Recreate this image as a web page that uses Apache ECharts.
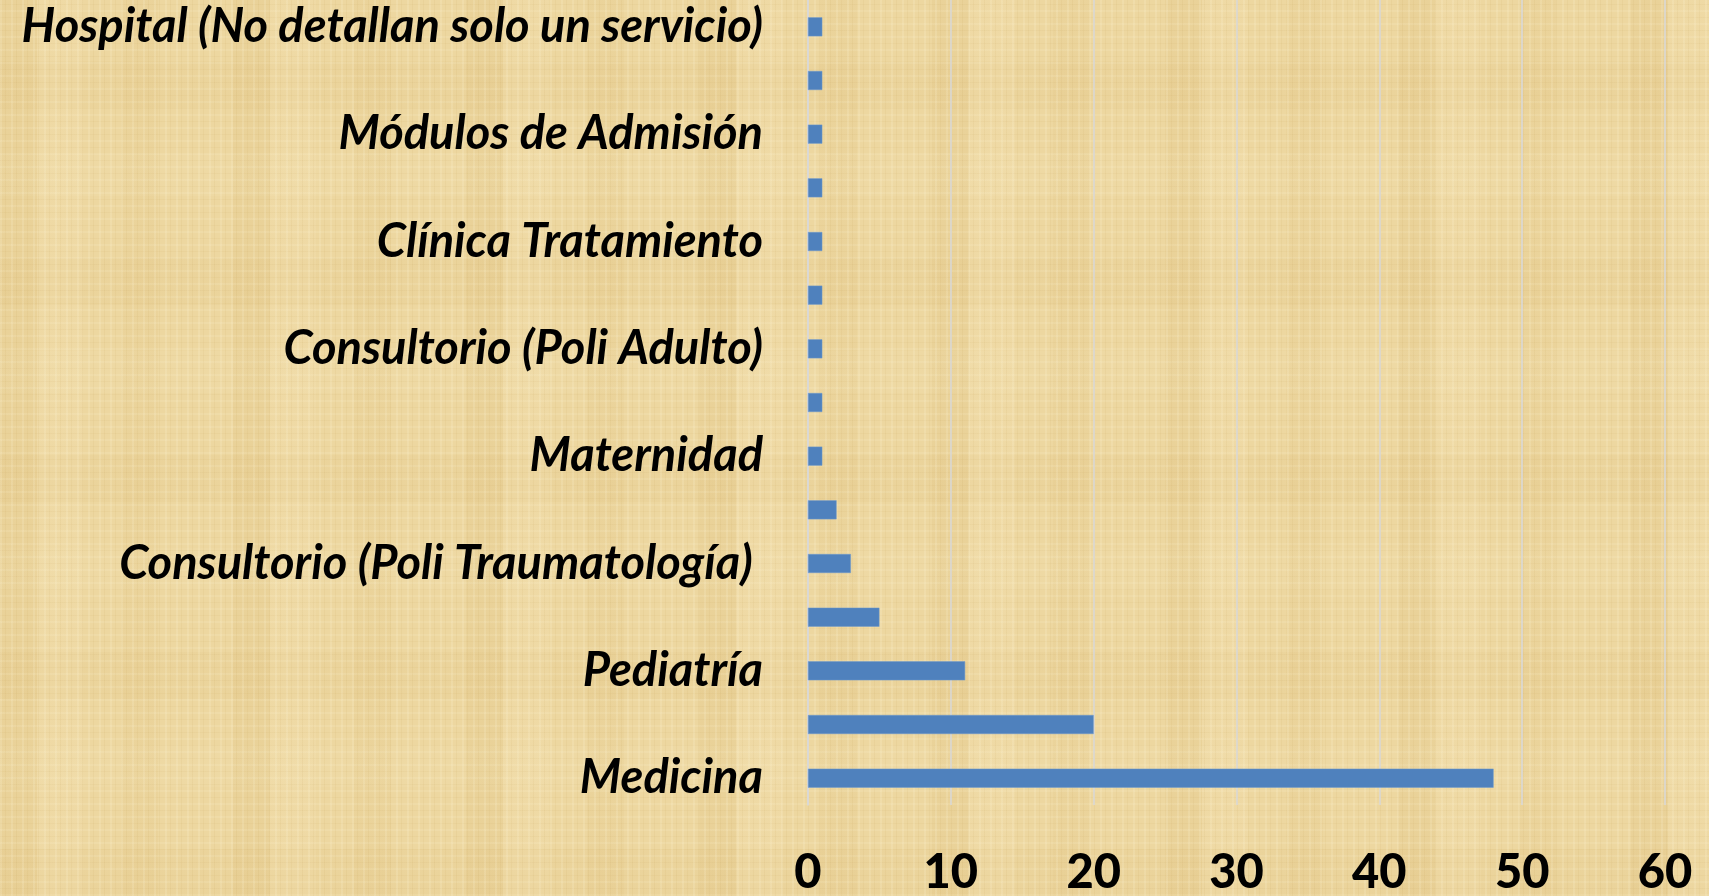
<!DOCTYPE html>
<html>
<head>
<meta charset="utf-8">
<script src="https://cdn.jsdelivr.net/npm/echarts@6/dist/echarts.min.js"></script>
<style>
html,body{margin:0;padding:0;width:1709px;height:896px;overflow:hidden;}
body{
  background-color:#edd7a0;
  background-image:
    repeating-linear-gradient(90deg, rgba(255,248,220,0.16) 0px, rgba(255,248,220,0.16) 2px, rgba(0,0,0,0) 2px, rgba(0,0,0,0) 5px, rgba(180,140,60,0.07) 5px, rgba(180,140,60,0.07) 6px, rgba(0,0,0,0) 6px, rgba(0,0,0,0) 11px),
    repeating-linear-gradient(0deg, rgba(255,248,220,0.12) 0px, rgba(255,248,220,0.12) 2px, rgba(0,0,0,0) 2px, rgba(0,0,0,0) 7px, rgba(180,140,60,0.06) 7px, rgba(180,140,60,0.06) 8px, rgba(0,0,0,0) 8px, rgba(0,0,0,0) 13px),
    repeating-linear-gradient(90deg, rgba(200,160,80,0.09) 0px, rgba(200,160,80,0.09) 37px, rgba(255,240,205,0.10) 37px, rgba(255,240,205,0.10) 83px, rgba(0,0,0,0) 83px, rgba(0,0,0,0) 121px, rgba(205,165,85,0.07) 121px, rgba(205,165,85,0.07) 158px, rgba(0,0,0,0) 158px, rgba(0,0,0,0) 233px),
    repeating-linear-gradient(0deg, rgba(200,160,80,0.06) 0px, rgba(200,160,80,0.06) 47px, rgba(0,0,0,0) 47px, rgba(0,0,0,0) 109px, rgba(255,240,205,0.08) 109px, rgba(255,240,205,0.08) 151px, rgba(0,0,0,0) 151px, rgba(0,0,0,0) 197px);
}
#chart{width:1709px;height:896px;}
</style>
</head>
<body>
<div id="chart"></div>
<script>
// Categories from bottom (index 0) to top; unlabeled categories are hidden in the source image
const categories = [
  'Medicina',
  'Servicio sin etiqueta A',
  'Pediatría',
  'Servicio sin etiqueta B',
  'Consultorio (Poli Traumatología) ',
  'Servicio sin etiqueta C',
  'Maternidad',
  'Servicio sin etiqueta D',
  'Consultorio (Poli Adulto)',
  'Servicio sin etiqueta E',
  'Clínica Tratamiento',
  'Servicio sin etiqueta F',
  'Módulos de Admisión',
  'Servicio sin etiqueta G',
  'Hospital (No detallan solo un servicio)'
];
const values = [48, 20, 11, 5, 3, 2, 1, 1, 1, 1, 1, 1, 1, 1, 1];
const xTicks = [0, 10, 20, 30, 40, 50, 60];

const chart = echarts.init(document.getElementById('chart'), null, {renderer: 'canvas'});
chart.setOption({
  backgroundColor: 'transparent',
  animation: false,
  grid: {left: 808, right: 44, top: 0, bottom: 91, containLabel: false},
  xAxis: {
    type: 'value',
    min: xTicks[0],
    max: xTicks[xTicks.length - 1],
    interval: 10,
    axisLine: {show: false},
    axisTick: {show: false},
    splitLine: {show: true, lineStyle: {color: '#d9d9d9', width: 1.5}},
    axisLabel: {
      margin: 44,
      color: '#000',
      fontFamily: 'Lato',
      fontWeight: 900,
      fontSize: 47
    }
  },
  yAxis: {
    type: 'category',
    data: categories,
    axisLine: {show: true, lineStyle: {color: '#d9d9d9', width: 1.5}},
    axisTick: {show: false},
    splitLine: {show: false},
    axisLabel: {
      interval: 1,
      margin: 45,
      color: '#000',
      fontFamily: 'Lato',
      fontWeight: 'bold',
      fontStyle: 'italic',
      fontSize: 47
    }
  },
  series: [{
    type: 'bar',
    data: values,
    barWidth: 19,
    itemStyle: {color: '#4f81bd', borderColor: '#6f9ad0', borderWidth: 0.5}
  }]
});
</script>
</body>
</html>
